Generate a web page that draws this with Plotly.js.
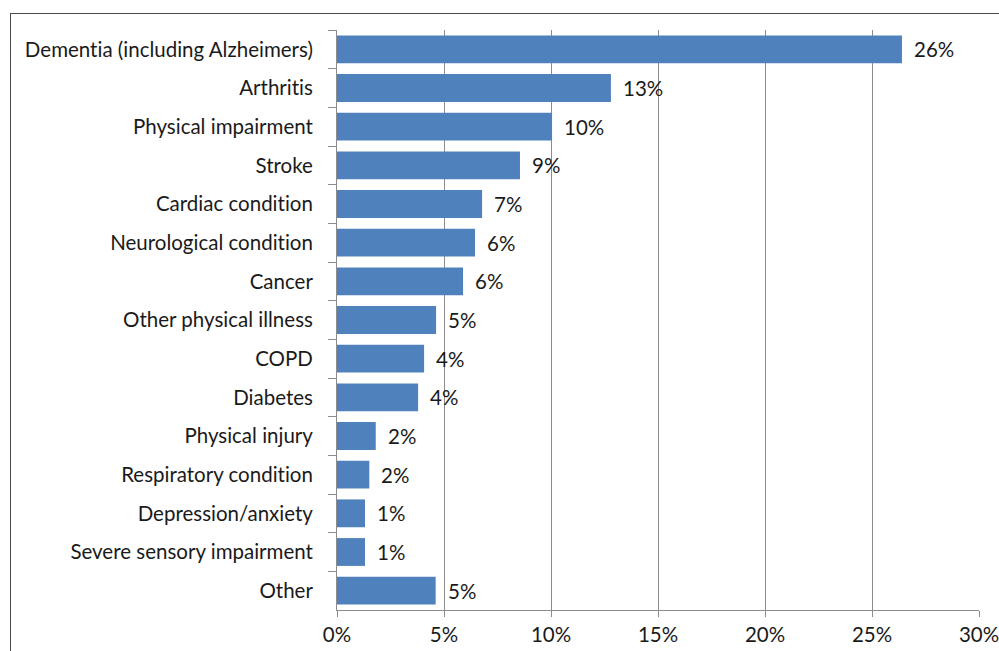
<!DOCTYPE html>
<html>
<head>
<meta charset="utf-8">
<script src="https://cdn.plot.ly/plotly-3.0.1.min.js"></script>
<style>
html,body{margin:0;padding:0;overflow:hidden;background:#fff;}
#wrap{position:relative;width:999px;height:651px;overflow:hidden;}
#chart{position:absolute;left:0;top:0;width:999px;height:651px;}
#chart text{font-variant-ligatures:none;font-feature-settings:"liga" 0,"clig" 0;}
#frame{position:absolute;left:10px;top:13px;width:1000px;height:700px;border-left:1px solid #4a4a4a;border-top:1px solid #4a4a4a;pointer-events:none;}
</style>
</head>
<body>
<div id="wrap"><div id="chart"></div><div id="frame"></div></div>
<script>
const categories = [
  "Dementia (including Alzheimers)",
  "Arthritis",
  "Physical impairment",
  "Stroke",
  "Cardiac condition",
  "Neurological condition",
  "Cancer",
  "Other physical illness",
  "COPD",
  "Diabetes",
  "Physical injury",
  "Respiratory condition",
  "Depression/anxiety",
  "Severe sensory impairment",
  "Other"
];
const values = [0.264, 0.128, 0.1005, 0.0855, 0.0678, 0.0645, 0.0589, 0.0463, 0.0407, 0.0379, 0.0181, 0.0151, 0.0131, 0.0131, 0.0461];
const valueLabels = ["26%","13%","10%","9%","7%","6%","6%","5%","4%","4%","2%","2%","1%","1%","5%"];
const xTickVals = [0, 0.05, 0.10, 0.15, 0.20, 0.25, 0.30];
const xTickText = ["0%","5%","10%","15%","20%","25%","30%"];

const font = "Lato, 'Open Sans', sans-serif";
const fsize = 20.5;
const trace = {
  type: "bar",
  orientation: "h",
  x: values,
  y: categories,
  marker: {color: "#4F81BD"},
  hoverinfo: "none"
};
const annotations = values.map((v, i) => ({
  x: v, y: categories[i], xref: "x", yref: "y",
  text: valueLabels[i], showarrow: false, xanchor: "left", xshift: 10,
  font: {family: font, size: fsize, color: "#1a1a1a"}
}));
const layout = {
  width: 999, height: 651,
  margin: {l: 337, r: 20, t: 30, b: 41, pad: 0},
  paper_bgcolor: "#ffffff", plot_bgcolor: "#ffffff",
  showlegend: false,
  bargap: 0.28,
  xaxis: {
    range: [0, 0.30],
    tickvals: xTickVals, ticktext: xTickText,
    showgrid: true, gridcolor: "#8c8c8c", gridwidth: 1,
    zeroline: false,
    showline: true, linecolor: "#8c8c8c", linewidth: 1,
    ticks: "outside", ticklen: 6, tickcolor: "#8c8c8c",
    ticklabeloverflow: "allow",
    tickfont: {family: font, size: fsize, color: "#1a1a1a"},
    fixedrange: true
  },
  yaxis: {
    autorange: "reversed",
    showgrid: false, zeroline: false,
    showline: true, linecolor: "#8c8c8c", linewidth: 1,
    ticks: "outside", ticklen: 8, tickcolor: "#8c8c8c",
    tickson: "boundaries",
    ticklabelstandoff: 19,
    tickfont: {family: font, size: fsize, color: "#1a1a1a"},
    fixedrange: true
  },
  annotations: annotations
};
Plotly.newPlot("chart", [trace], layout, {displayModeBar: false, staticPlot: true});
</script>
</body>
</html>
